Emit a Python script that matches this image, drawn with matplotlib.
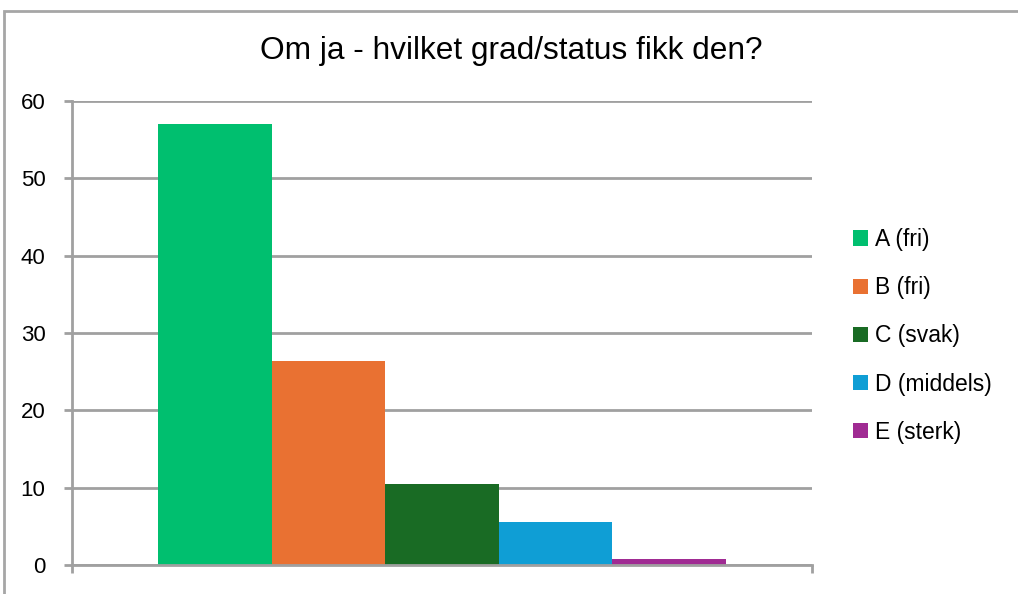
import matplotlib
matplotlib.use("Agg")
import matplotlib.pyplot as plt
from matplotlib.patches import Patch, Rectangle

plt.rcParams['font.family'] = ['Liberation Sans', 'DejaVu Sans']

# ================= 数据 =================
series = ["A (fri)", "B (fri)", "C (svak)", "D (middels)", "E (sterk)"]
values = [57.0, 26.4, 10.5, 5.6, 0.8]
colors = ["#00BF6F", "#E97132", "#196B24", "#0F9ED5", "#A02B93"]
yticks = [0, 10, 20, 30, 40, 50, 60]
title = "Om ja - hvilket grad/status fikk den?"

W, H = 1018, 594
fig = plt.figure(figsize=(W / 100, H / 100), dpi=100)
ax = fig.add_axes([72 / W, 1 - 565 / H, (812 - 72) / W, (565 - 101) / H])

grid_col = "#A0A0A0"
bar_w = 0.1535
for i, (name, v, c) in enumerate(zip(series, values, colors)):
    ax.bar((i - 2) * bar_w, v, width=bar_w, color=c, label=name, zorder=3)

ax.set_xlim(-0.5, 0.5)
ax.set_ylim(0, 60)
ax.set_yticks(yticks)
ax.set_xticks([-0.5, 0.5])
ax.set_xticklabels([])
ax.yaxis.grid(True, color=grid_col, linewidth=2, zorder=0)

for s in ["top", "right"]:
    ax.spines[s].set_visible(False)
for s in ["left", "bottom"]:
    ax.spines[s].set_color(grid_col)
    ax.spines[s].set_linewidth(2)
    ax.spines[s].set_zorder(4)

ax.tick_params(axis="y", length=6, width=2, color=grid_col, labelsize=16, pad=13)
ax.tick_params(axis="x", length=6, width=2, color=grid_col, direction="out")

fig.text(511 / W, 1 - 51 / H, title, ha="center", va="center", fontsize=22.8)

handles = [Patch(facecolor=c, edgecolor="none") for c in colors]
fig.legend(handles, series, loc="upper left",
           bbox_to_anchor=(853 / W, 1 - 228 / H),
           frameon=False, fontsize=16.5, borderpad=0, borderaxespad=0,
           handlelength=0.65, handleheight=0.65, handletextpad=0.3,
           labelspacing=1.1)

# 外框
fig.add_artist(Rectangle((4 / W, -0.1), 2, 1 - 10.5 / H + 0.1,
                         transform=fig.transFigure, fill=False,
                         edgecolor="#A6A6A6", linewidth=2))

fig.savefig("out.png", dpi=100)
